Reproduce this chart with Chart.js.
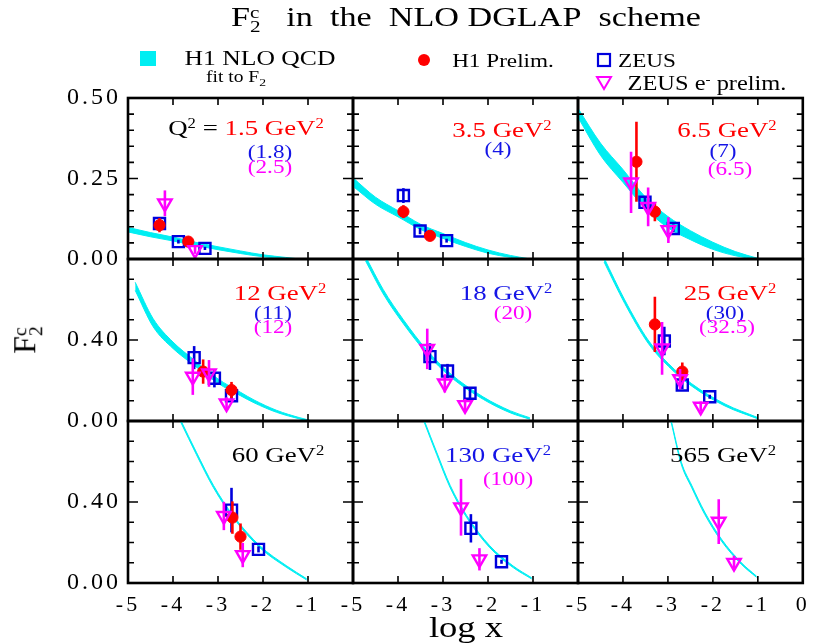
<!DOCTYPE html>
<html>
<head>
<meta charset="utf-8">
<script src="https://cdn.jsdelivr.net/npm/chart.js@4.4.0/dist/chart.umd.min.js"></script>
<style>
body { margin: 0; background: #fff; }
#wrap { position: relative; width: 813px; height: 643px; overflow: hidden; font-family: "Liberation Serif", "Times New Roman", serif; color: #000; }
canvas { position: absolute; left: 0; top: 0; }
.t { position: absolute; white-space: nowrap; line-height: 1; transform: translate(-50%, -50%) scaleX(1.22); }
sup { font-size: 0.62em; position: relative; top: -0.55em; vertical-align: baseline; line-height: 0; }
.stack { display: inline-block; vertical-align: middle; line-height: 0.8; font-size: 0.62em; text-align: left; }
</style>
</head>
<body>
<div id="wrap"></div>
<script>
// ---- data (log x, F2c) ----
const q2H1 = ['1.5', '3.5', '6.5', '12', '18', '25', '60', '130', '565'];
const q2Zeus = ['1.8', '4', '7', '11', '', '30', '', '', ''];
const q2ZeusEm = ['2.5', '', '6.5', '12', '20', '32.5', '', '100', ''];

const bandX = [
  [-5, -4.5, -4, -3.5, -3, -2.5, -2, -1.5, -1.25],
  [-5, -4.5, -4, -3.5, -3, -2.5, -2, -1.5, -1.1],
  [-5, -4.5, -4, -3.5, -3, -2.5, -2, -1.5, -1.0],
  [-4.84, -4.44, -4.0, -3.55, -3.0, -2.5, -2.2, -1.7, -1.18, -0.95],
  [-4.72, -4.33, -3.88, -3.36, -2.84, -2.10, -1.5, -1.07],
  [-4.42, -3.96, -3.44, -2.99, -2.47, -1.73, -0.99],
  [-3.83, -3.48, -3.10, -2.66, -2.07, -1.47, -1.03],
  [-3.42, -3.14, -2.84, -2.47, -1.96, -1.44, -1.03],
  [-2.93, -2.70, -2.47, -2.18, -1.81, -1.37, -1.03]
];
const bandUpper = [
  [0.098, 0.082, 0.068, 0.052, 0.038, 0.025, 0.013, 0.005, 0.001],
  [0.252, 0.192, 0.150, 0.108, 0.079, 0.051, 0.028, 0.011, 0.001],
  [0.468, 0.360, 0.278, 0.192, 0.132, 0.088, 0.052, 0.023, 0.002],
  [0.685, 0.505, 0.390, 0.305, 0.208, 0.142, 0.104, 0.053, 0.016, 0.003],
  [0.812, 0.650, 0.500, 0.351, 0.235, 0.118, 0.050, 0.016],
  [0.805, 0.598, 0.400, 0.284, 0.184, 0.084, 0.016],
  [0.805, 0.646, 0.482, 0.332, 0.184, 0.084, 0.021],
  [0.805, 0.646, 0.482, 0.332, 0.184, 0.084, 0.026],
  [0.805, 0.596, 0.482, 0.350, 0.217, 0.101, 0.034]
];
const bandLower = [
  [0.084, 0.069, 0.056, 0.042, 0.029, 0.017, 0.007, 0.001, -0.002],
  [0.226, 0.170, 0.131, 0.092, 0.064, 0.039, 0.018, 0.005, -0.002],
  [0.440, 0.322, 0.238, 0.157, 0.097, 0.060, 0.030, 0.010, -0.002],
  [0.645, 0.465, 0.358, 0.278, 0.186, 0.125, 0.090, 0.043, 0.010, -0.002],
  [0.790, 0.628, 0.480, 0.333, 0.219, 0.106, 0.040, 0.009],
  [0.785, 0.580, 0.384, 0.270, 0.172, 0.074, 0.010],
  [0.795, 0.634, 0.470, 0.322, 0.174, 0.076, 0.015],
  [0.795, 0.634, 0.470, 0.322, 0.174, 0.076, 0.020],
  [0.795, 0.584, 0.470, 0.338, 0.207, 0.093, 0.028]
];

const h1X = [[-4.30, -3.66], [-3.88, -3.29], [-3.70, -3.29], [-3.33, -2.70], [], [-3.29, -2.68], [-2.68, -2.50], [], []];
const h1Y = [[0.105, 0.054], [0.147, 0.072], [0.302, 0.147], [0.244, 0.153], [], [0.477, 0.244], [0.323, 0.229], [], []];
const h1Err = [[0.022, 0.01], [0.02, 0.015], [0.124, 0.03], [0.06, 0.04], [], [0.136, 0.045], [0.08, 0.065], [], []];

const zeusX = [[-4.30, -3.88, -3.29], [-3.88, -3.51, -2.92], [-3.51, -2.88], [-3.53, -3.08, -2.70], [-3.29, -2.90, -2.40],
  [-3.08, -2.68, -2.07], [-2.70, -2.10], [-2.38, -1.70], []];
const zeusY = [[0.11, 0.054, 0.033], [0.197, 0.087, 0.057], [0.176, 0.095], [0.313, 0.211, 0.125], [0.318, 0.247, 0.137],
  [0.395, 0.178, 0.12], [0.36, 0.166], [0.27, 0.105], []];
const zeusErr = [[0.01, 0.006, 0.005], [0.023, 0.01, 0.006], [0.018, 0.012], [0.057, 0.045, 0.02], [0.066, 0.035, 0.03],
  [0.07, 0.02, 0.01], [0.11, 0.015], [0.07, 0.01], []];

const zeusEmX = [[-4.18, -3.51], [], [-3.82, -3.44, -2.99], [-3.56, -3.20, -2.81], [-3.35, -2.96, -2.51],
  [-3.13, -2.73, -2.27], [-2.87, -2.45], [-2.60, -2.19], [-1.87, -1.53]];
const zeusEmY = [[0.173, 0.028], [], [0.238, 0.162, 0.09], [0.219, 0.235, 0.087], [0.356, 0.186, 0.079],
  [0.359, 0.207, 0.071], [0.331, 0.138], [0.374, 0.117], [0.303, 0.1]];
const zeusEmErr = [[0.04, 0.012], [], [0.095, 0.06, 0.04], [0.09, 0.066, 0.03], [0.1, 0.045, 0.03],
  [0.13, 0.05, 0.025], [0.07, 0.06], [0.14, 0.055], [0.11, 0.035]];

const xTicks = [-5, -4, -3, -2, -1, 0];
const yMax = [0.5, 0.8, 0.8];
const yStep = [0.05, 0.1, 0.1];
const yMajor = [0.25, 0.4, 0.4];
const yTickLabels = [[0, 0.25, 0.5], [0, 0.4], [0, 0.4]];

// ---- layout ----
const W = 813, H = 643;
const colEdges = [128, 353, 578, 803];
const rowEdges = [98, 259, 421, 583];
const CYAN = 'rgb(0,238,242)', RED = '#ff0000', BLUE = '#0000dd', MAG = '#ff00ff', TXTBLUE = '#1515e6';
const FONT = '"Liberation Serif", "Times New Roman", serif';

const wrap = document.getElementById('wrap');

const errorBars = {
  id: 'errorBars',
  beforeDatasetDraw(chart, args) {
    const ds = chart.data.datasets[args.index];
    if (!ds.errors) return;
    const { ctx, chartArea: a, scales: { x, y } } = chart;
    ctx.save();
    ctx.beginPath();
    ctx.rect(a.left, a.top, a.width, a.height);
    ctx.clip();
    ctx.strokeStyle = ds.borderColor;
    ctx.lineWidth = 2.6;
    ds.data.forEach((p, i) => {
      const px = x.getPixelForValue(p.x);
      ctx.beginPath();
      ctx.moveTo(px, y.getPixelForValue(p.y - ds.errors[i]));
      ctx.lineTo(px, y.getPixelForValue(p.y + ds.errors[i]));
      ctx.stroke();
    });
    ctx.restore();
  }
};

// wider tick numbers, like the original
const tickSpacing = {
  id: 'tickSpacing',
  beforeDraw(chart) { chart.ctx.letterSpacing = '3px'; }
};

function framePlugin(row) {
  return {
    id: 'frame',
    afterDraw(chart) {
      const { ctx, chartArea: a, scales: { x, y } } = chart;
      ctx.save();
      ctx.strokeStyle = '#000';
      ctx.lineWidth = 1.6;
      ctx.beginPath();
      xTicks.forEach(v => {
        const px = x.getPixelForValue(v);
        ctx.moveTo(px, a.top); ctx.lineTo(px, a.top + 7);
        ctx.moveTo(px, a.bottom); ctx.lineTo(px, a.bottom - 7);
      });
      const n = Math.round(yMax[row] / yStep[row]);
      for (let k = 0; k <= n; k++) {
        const v = k * yStep[row];
        const r = v / yMajor[row];
        const len = Math.abs(r - Math.round(r)) < 1e-6 ? 10 : 6;
        const py = y.getPixelForValue(v);
        ctx.moveTo(a.left, py); ctx.lineTo(a.left + len, py);
        ctx.moveTo(a.right, py); ctx.lineTo(a.right - len, py);
      }
      ctx.stroke();
      ctx.lineWidth = 2.6;
      ctx.strokeRect(a.left, a.top, a.width, a.height);
      ctx.restore();
    }
  };
}

function pts(xs, ys) {
  return xs.map((v, i) => ({ x: v, y: ys[i] }));
}

for (let i = 0; i < 9; i++) {
  const row = Math.floor(i / 3), col = i % 3;
  const canvas = document.createElement('canvas');
  canvas.width = W; canvas.height = H;
  wrap.appendChild(canvas);

  const isLeft = col === 0, isBottom = row === 2;
  const xAxisH = isBottom ? H - rowEdges[3] : 0;
  const yAxisW = isLeft ? colEdges[0] : 0;

  new Chart(canvas, {
    type: 'scatter',
    data: {
      datasets: [
        { data: pts(bandX[i], bandLower[i]), showLine: true, borderColor: CYAN, borderWidth: 1,
          pointRadius: 0, cubicInterpolationMode: 'monotone', fill: false, order: 10 },
        { data: pts(bandX[i], bandUpper[i]), showLine: true, borderColor: CYAN, borderWidth: 1,
          backgroundColor: CYAN, pointRadius: 0, cubicInterpolationMode: 'monotone', fill: '-1', order: 9 },
        { data: pts(zeusX[i], zeusY[i]), errors: zeusErr[i], pointStyle: 'rect', pointRadius: 7.8,
          borderColor: BLUE, backgroundColor: 'rgba(0,0,0,0)', borderWidth: 2.4, order: 3 },
        { data: pts(h1X[i], h1Y[i]), errors: h1Err[i], pointStyle: 'circle', pointRadius: 5.6,
          borderColor: RED, backgroundColor: RED, borderWidth: 1, order: 2 },
        { data: pts(zeusEmX[i], zeusEmY[i]), errors: zeusEmErr[i], pointStyle: 'triangle', pointRotation: 180,
          pointRadius: 7.8, borderColor: MAG, backgroundColor: 'rgba(0,0,0,0)', borderWidth: 2.4, order: 1 }
      ]
    },
    options: {
      responsive: false,
      animation: false,
      devicePixelRatio: 1,
      layout: {
        padding: {
          left: colEdges[col] - yAxisW,
          right: W - colEdges[col + 1],
          top: rowEdges[row],
          bottom: H - rowEdges[row + 1] - xAxisH
        }
      },
      plugins: { legend: { display: false }, tooltip: { enabled: false } },
      scales: {
        x: {
          type: 'linear', min: -5, max: 0,
          grid: { display: false, drawTicks: false },
          border: { display: false },
          ticks: {
            display: isBottom, stepSize: 1, autoSkip: false, maxRotation: 0, padding: 9,
            color: '#000', font: { family: FONT, size: 22 },
            callback: v => (xTicks.includes(v) && (v < 0 || col === 2)) ? String(v) : ''
          },
          afterFit: s => { s.height = xAxisH; s.paddingLeft = 0; s.paddingRight = 0; }
        },
        y: {
          type: 'linear', min: 0, max: yMax[row],
          grid: { display: false, drawTicks: false },
          border: { display: false },
          ticks: {
            display: isLeft, stepSize: yStep[row], autoSkip: false, padding: 7,
            color: '#000', font: { family: FONT, size: 24 },
            callback: v => yTickLabels[row].some(t => Math.abs(t - v) < 1e-6) ? v.toFixed(2) : ''
          },
          afterFit: s => { s.width = yAxisW; s.paddingTop = 0; s.paddingBottom = 0; }
        }
      }
    },
    plugins: [tickSpacing, errorBars, framePlugin(row)]
  });
}

// ---- text: title, legend, panel labels, axis titles ----
function addText(html, x, y, size, color, extra) {
  const d = document.createElement('div');
  d.className = 't';
  d.innerHTML = html;
  d.style.left = x + 'px';
  d.style.top = y + 'px';
  d.style.fontSize = size + 'px';
  d.style.color = color || '#000';
  if (extra) d.style.cssText += extra;
  wrap.appendChild(d);
  return d;
}

const labelPos = [[246, 128], [502, 130], [727, 130], [280, 293], [506, 293], [730, 293], [278, 455], [498, 455], [723, 455]];
const labelColor = [RED, RED, RED, RED, TXTBLUE, RED, '#000', TXTBLUE, '#000'];
const zeusPos = [[270, 151], [498, 148], [723, 150], [273, 312], null, [725, 312], null, null, null];
const zeusEmPos = [[270, 166], null, [730, 168], [273, 326], [513, 312], [727, 326], null, [508, 478], null];

for (let i = 0; i < 9; i++) {
  let html = q2H1[i] + ' GeV<sup>2</sup>';
  if (i === 0) html = '<span style="color:#000">Q<sup>2</sup> = </span>' + html;
  addText(html, labelPos[i][0], labelPos[i][1], 22, labelColor[i]);
  if (q2Zeus[i]) addText('(' + q2Zeus[i] + ')', zeusPos[i][0], zeusPos[i][1], 19, TXTBLUE);
  if (q2ZeusEm[i]) addText('(' + q2ZeusEm[i] + ')', zeusEmPos[i][0], zeusEmPos[i][1], 19, MAG);
}

addText('F<span class="stack">c<br>2</span>&nbsp;&nbsp; in&nbsp; the&nbsp; NLO DGLAP&nbsp; scheme', 466, 18, 28, '#000');

// legend
const sw = document.createElement('div');
sw.style.cssText = 'position:absolute;left:140px;top:51px;width:16px;height:15px;background:' + CYAN;
wrap.appendChild(sw);
addText('H1 NLO QCD', 260, 58, 21);
addText('fit to F<sub style="font-size:0.7em">2</sub>', 236, 79, 16);
const svg = '<svg xmlns="http://www.w3.org/2000/svg" width="813" height="100" style="position:absolute;left:0;top:0">' +
  '<circle cx="424" cy="60" r="6" fill="' + RED + '"/>' +
  '<rect x="598" y="54" width="12" height="12" fill="none" stroke="' + BLUE + '" stroke-width="2.2"/>' +
  '<polygon points="597,77 611,77 604,89" fill="none" stroke="' + MAG + '" stroke-width="2"/>' +
  '</svg>';
wrap.insertAdjacentHTML('beforeend', svg);
addText('H1 Prelim.', 503, 60, 19);
addText('ZEUS', 647, 60, 19);
addText('ZEUS e<sup>-</sup> prelim.', 707, 83, 20);

// axis titles
addText('F<span class="stack">c<br>2</span>', 26, 340, 32, '#000', 'transform:translate(-50%,-50%) rotate(-90deg);');
addText('log x', 466, 627, 30);
</script>
</body>
</html>
